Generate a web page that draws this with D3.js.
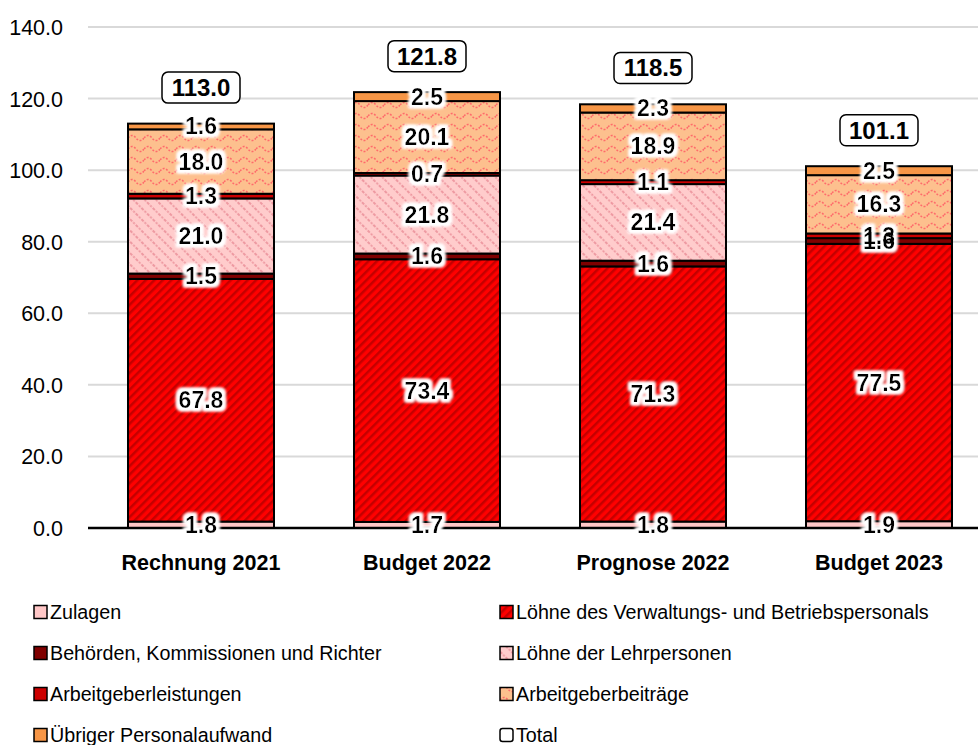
<!DOCTYPE html>
<html>
<head>
<meta charset="utf-8">
<script src="https://cdn.jsdelivr.net/npm/d3@7"></script>
<style>
  body { margin: 0; background: #fff; }
  svg { display: block; font-family: "Liberation Sans", Arial, sans-serif; }
</style>
</head>
<body>
<svg id="chart" width="978" height="745"></svg>
<script>
// categories
const categories = ["Rechnung 2021", "Budget 2022", "Prognose 2022", "Budget 2023"]

// series (bottom to top)
const seriesNames = [
  "Zulagen",
  "Löhne des Verwaltungs- und Betriebspersonals",
  "Behörden, Kommissionen und Richter",
  "Löhne der Lehrpersonen",
  "Arbeitgeberleistungen",
  "Arbeitgeberbeiträge",
  "Übriger Personalaufwand"
]
const zulagen       = [1.8, 1.7, 1.8, 1.9]
const loehneVerw    = [67.8, 73.4, 71.3, 77.5]
const behoerden     = [1.5, 1.6, 1.6, 1.6]
const loehneLehr    = [21.0, 21.8, 21.4, 0]
const agLeistungen  = [1.3, 0.7, 1.1, 1.3]
const agBeitraege   = [18.0, 20.1, 18.9, 16.3]
const uebriger      = [1.6, 2.5, 2.3, 2.5]
const totals        = [113.0, 121.8, 118.5, 101.1]

const yTicks = [0, 20, 40, 60, 80, 100, 120, 140]

const seriesValues = [zulagen, loehneVerw, behoerden, loehneLehr, agLeistungen, agBeitraege, uebriger]
const fills = ["#ffc7c7", "url(#pRed)", "#7f0000", "url(#pLehr)", "#cc0000", "url(#pWave)", "#f79646"]

const svg = d3.select("#chart")

/*
Patterns
*/
const defs = svg.append("defs")

let p = defs.append("pattern").attr("id", "pRed").attr("patternUnits", "userSpaceOnUse")
  .attr("width", 6).attr("height", 6).attr("patternTransform", "rotate(45)")
p.append("rect").attr("width", 6).attr("height", 6).attr("fill", "#ff0000")
p.append("rect").attr("width", 2.5).attr("height", 6).attr("fill", "#c40000")

p = defs.append("pattern").attr("id", "pLehr").attr("patternUnits", "userSpaceOnUse")
  .attr("width", 8).attr("height", 8).attr("patternTransform", "rotate(-45)")
p.append("rect").attr("width", 8).attr("height", 8).attr("fill", "#ffcccc")
p.append("line").attr("x1", 1).attr("x2", 1).attr("y1", 0).attr("y2", 8)
  .attr("stroke", "#ee9aa2").attr("stroke-width", 2).attr("stroke-dasharray", "2 1.5")

p = defs.append("pattern").attr("id", "pWave").attr("patternUnits", "userSpaceOnUse")
  .attr("width", 16).attr("height", 11)
p.append("rect").attr("width", 16).attr("height", 11).attr("fill", "#fdc08e")
p.append("path").attr("d", "M0,6 Q4,1 8,6 T16,6").attr("fill", "none")
  .attr("stroke", "#ff6b6b").attr("stroke-width", 1.6).attr("stroke-dasharray", "2 1.5")

const glow = defs.append("filter").attr("id", "glow").attr("x", "-30%").attr("y", "-40%").attr("width", "160%").attr("height", "180%")
glow.append("feMorphology").attr("in", "SourceAlpha").attr("operator", "dilate").attr("radius", 3).attr("result", "d")
glow.append("feGaussianBlur").attr("in", "d").attr("stdDeviation", 1.8).attr("result", "b")
glow.append("feFlood").attr("flood-color", "#fff")
glow.append("feComposite").attr("in2", "b").attr("operator", "in").attr("result", "w")
const merge = glow.append("feMerge")
merge.append("feMergeNode").attr("in", "w")
merge.append("feMergeNode").attr("in", "w")
merge.append("feMergeNode").attr("in", "SourceGraphic")

/*
Scales
*/
const x = d3.scaleBand().domain(categories).range([88, 992]).paddingInner(0.354).paddingOuter(0.177)
const y = d3.scaleLinear().domain([0, 140]).range([528, 27])

// grid
svg.append("g").selectAll("line").data(yTicks.filter(d => d > 0)).enter().append("line")
  .attr("x1", 88).attr("x2", 978)
  .attr("y1", d => y(d)).attr("y2", d => y(d))
  .attr("stroke", "#d9d9d9").attr("stroke-width", 2)

// y labels
svg.append("g").selectAll("text").data(yTicks).enter().append("text")
  .attr("x", 63).attr("y", d => y(d) + 8)
  .attr("text-anchor", "end").attr("font-size", 21.5).attr("fill", "#000")
  .text(d => d.toFixed(1))

// stacked data
const table = categories.map((c, i) => {
  let row = { cat: c }
  seriesNames.forEach((s, k) => row[s] = seriesValues[k][i])
  return row
})
const stacked = d3.stack().keys(seriesNames)(table)

const bars = svg.append("g")
stacked.forEach((layer, k) => {
  bars.append("g").selectAll("rect").data(layer).enter().append("rect")
    .attr("x", d => x(d.data.cat))
    .attr("width", x.bandwidth())
    .attr("y", d => y(d[1]))
    .attr("height", d => y(d[0]) - y(d[1]))
    .attr("fill", fills[k])
    .attr("stroke", "#000").attr("stroke-width", 2)
})

// axis line
svg.append("line").attr("x1", 88).attr("x2", 978).attr("y1", y(0)).attr("y2", y(0))
  .attr("stroke", "#000").attr("stroke-width", 2.5)

// x labels
svg.append("g").selectAll("text").data(categories).enter().append("text")
  .attr("x", d => x(d) + x.bandwidth() / 2).attr("y", 570)
  .attr("text-anchor", "middle").attr("font-size", 21.5).attr("font-weight", "bold")
  .text(d => d)

// segment labels
const labels = svg.append("g").attr("filter", "url(#glow)")
stacked.forEach((layer, k) => {
  labels.append("g").selectAll("text").data(layer.filter(d => d[1] - d[0] > 0)).enter().append("text")
    .attr("x", d => x(d.data.cat) + x.bandwidth() / 2)
    .attr("y", d => (y(d[0]) + y(d[1])) / 2 + 8)
    .attr("text-anchor", "middle").attr("font-size", 23).attr("font-weight", "bold")
    .text(d => (d[1] - d[0]).toFixed(1))
})

// totals
const tot = svg.append("g").selectAll("g").data(categories).enter().append("g")
  .attr("transform", (d, i) => `translate(${x(d) + x.bandwidth() / 2},${y(totals[i]) - 36})`)
tot.append("rect").attr("x", -39).attr("y", -15.5).attr("width", 78).attr("height", 31)
  .attr("rx", 6).attr("fill", "#fff").attr("stroke", "#000").attr("stroke-width", 1.5)
tot.append("text").attr("text-anchor", "middle").attr("y", 8.5)
  .attr("font-size", 24).attr("font-weight", "bold")
  .text((d, i) => totals[i].toFixed(1))

// legend
const legendItems = [
  { name: seriesNames[0], fill: fills[0] },
  { name: seriesNames[1], fill: fills[1] },
  { name: seriesNames[2], fill: fills[2] },
  { name: seriesNames[3], fill: fills[3] },
  { name: seriesNames[4], fill: fills[4] },
  { name: seriesNames[5], fill: fills[5] },
  { name: seriesNames[6], fill: fills[6] },
  { name: "Total", fill: "#fff" }
]
const leg = svg.append("g").selectAll("g").data(legendItems).enter().append("g")
  .attr("transform", (d, i) => `translate(${i % 2 ? 500 : 34},${612 + Math.floor(i / 2) * 41})`)
leg.append("rect").attr("x", 0).attr("y", -6.5).attr("width", 13).attr("height", 13)
  .attr("rx", (d, i) => i == 7 ? 2.5 : 0)
  .attr("fill", d => d.fill).attr("stroke", "#000").attr("stroke-width", 1.5)
leg.append("text").attr("x", 16).attr("y", 7).attr("font-size", 19.7).text(d => d.name)
</script>
</body>
</html>
